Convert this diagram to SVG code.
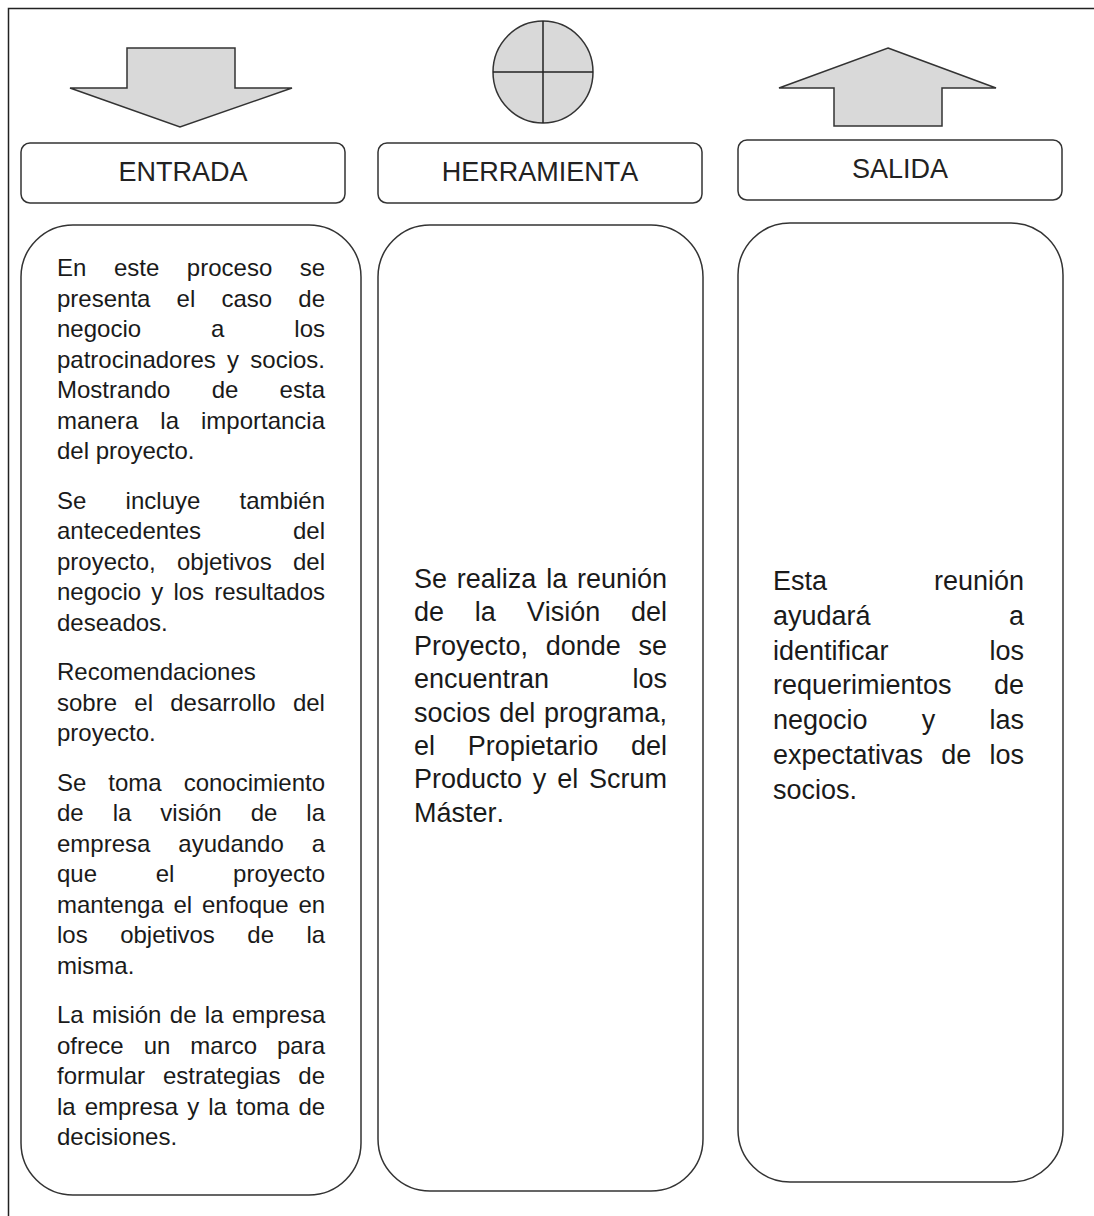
<svg xmlns="http://www.w3.org/2000/svg" width="1094" height="1216" viewBox="0 0 1094 1216">
<style>
.frame{fill:none;stroke:#222;stroke-width:1.5}
.shape{fill:#d9d9d9;stroke:#333;stroke-width:1.5;stroke-linejoin:miter}
.box{fill:#fff;stroke:#333;stroke-width:1.5}
.lbl{font-family:"Liberation Sans",Arial,sans-serif;font-size:27px;fill:#222;text-anchor:middle;font-kerning:none}
.t24{font-family:"Liberation Sans",Arial,sans-serif;font-size:24px;fill:#1a1a1a;font-kerning:none}
.t27{font-family:"Liberation Sans",Arial,sans-serif;font-size:27px;fill:#1a1a1a;font-kerning:none}
</style>
<rect width="1094" height="1216" fill="#fff"/>
<path class="frame" d="M8.5,1216 V8.5 H1094"/>

<g id="icon-entrada">
<polygon class="shape" points="127,48 235,48 235,88 292,88 180,127 70,88 127,88"/>
</g>
<g id="icon-herramienta">
<ellipse class="shape" cx="543" cy="72" rx="50" ry="51"/>
<line x1="493" y1="72" x2="593" y2="72" stroke="#222" stroke-width="1.5"/>
<line x1="543" y1="21" x2="543" y2="123" stroke="#222" stroke-width="1.5"/>
</g>
<g id="icon-salida">
<polygon class="shape" points="888,48 996,88 942,88 942,126 834,126 834,88 779,88"/>
</g>

<g id="label-entrada">
<rect class="box" x="21" y="143" width="324" height="60" rx="9"/>
<text class="lbl" x="183" y="181">ENTRADA</text>
</g>
<g id="label-herramienta">
<rect class="box" x="378" y="143" width="324" height="60" rx="9"/>
<text class="lbl" x="540" y="181">HERRAMIENTA</text>
</g>
<g id="label-salida">
<rect class="box" x="738" y="140" width="324" height="60" rx="9"/>
<text class="lbl" x="900" y="178">SALIDA</text>
</g>

<g id="box-entrada">
<rect class="box" x="21" y="225" width="340" height="970" rx="52"/>
<text class="t24" x="57" y="276" style="word-spacing:20.9px">En este proceso se</text>
<text class="t24" x="57" y="306.5" style="word-spacing:19.5px">presenta el caso de</text>
<text class="t24" x="57" y="337" style="word-spacing:63.3px">negocio a los</text>
<text class="t24" x="57" y="367.5" style="word-spacing:4.6px">patrocinadores y socios.</text>
<text class="t24" x="57" y="398" style="word-spacing:34.6px">Mostrando de esta</text>
<text class="t24" x="57" y="428.5" style="word-spacing:15.3px">manera la importancia</text>
<text class="t24" x="57" y="459">del proyecto.</text>

<text class="t24" x="57" y="508.5" style="word-spacing:32.6px">Se incluye también</text>
<text class="t24" x="57" y="539" style="word-spacing:85.2px">antecedentes del</text>
<text class="t24" x="57" y="569.5" style="word-spacing:14.6px">proyecto, objetivos del</text>
<text class="t24" x="57" y="600" style="word-spacing:3.5px">negocio y los resultados</text>
<text class="t24" x="57" y="630.5">deseados.</text>

<text class="t24" x="57" y="680">Recomendaciones</text>
<text class="t24" x="57" y="710.5" style="word-spacing:10.6px">sobre el desarrollo del</text>
<text class="t24" x="57" y="741">proyecto.</text>

<text class="t24" x="57" y="790.5" style="word-spacing:15.3px">Se toma conocimiento</text>
<text class="t24" x="57" y="821" style="word-spacing:22.3px">de la visión de la</text>
<text class="t24" x="57" y="851.5" style="word-spacing:21.3px">empresa ayudando a</text>
<text class="t24" x="57" y="882" style="word-spacing:52px">que el proyecto</text>
<text class="t24" x="57" y="912.5" style="word-spacing:3.1px">mantenga el enfoque en</text>
<text class="t24" x="57" y="943" style="word-spacing:25.8px">los objetivos de la</text>
<text class="t24" x="57" y="973.5">misma.</text>

<text class="t24" x="57" y="1023" style="word-spacing:1.7px">La misión de la empresa</text>
<text class="t24" x="57" y="1053.5" style="word-spacing:13.3px">ofrece un marco para</text>
<text class="t24" x="57" y="1084" style="word-spacing:11.3px">formular estrategias de</text>
<text class="t24" x="57" y="1114.5" style="word-spacing:2.4px">la empresa y la toma de</text>
<text class="t24" x="57" y="1145">decisiones.</text>
</g>

<g id="box-herramienta">
<rect class="box" x="378" y="225" width="325" height="966" rx="52"/>
<text class="t27" x="414" y="588" style="word-spacing:2.3px">Se realiza la reunión</text>
<text class="t27" x="414" y="621.4" style="word-spacing:23.3px">de la Visión del</text>
<text class="t27" x="414" y="654.8" style="word-spacing:10.2px">Proyecto, donde se</text>
<text class="t27" x="414" y="688.2" style="word-spacing:75.9px">encuentran los</text>
<text class="t27" x="414" y="721.6" style="word-spacing:1.2px">socios del programa,</text>
<text class="t27" x="414" y="755" style="word-spacing:25.2px">el Propietario del</text>
<text class="t27" x="414" y="788.4" style="word-spacing:3.3px">Producto y el Scrum</text>
<text class="t27" x="414" y="821.8">Máster.</text>
</g>

<g id="box-salida">
<rect class="box" x="738" y="223" width="325" height="959" rx="52"/>
<text class="t27" x="773" y="590" style="word-spacing:99.4px">Esta reunión</text>
<text class="t27" x="773" y="624.8" style="word-spacing:130.9px">ayudará a</text>
<text class="t27" x="773" y="659.6" style="word-spacing:93.5px">identificar los</text>
<text class="t27" x="773" y="694.4" style="word-spacing:34.9px">requerimientos de</text>
<text class="t27" x="773" y="729.2" style="word-spacing:46.7px">negocio y las</text>
<text class="t27" x="773" y="764" style="word-spacing:10.7px">expectativas de los</text>
<text class="t27" x="773" y="798.8">socios.</text>
</g>

<g id="connectors"></g>
</svg>
